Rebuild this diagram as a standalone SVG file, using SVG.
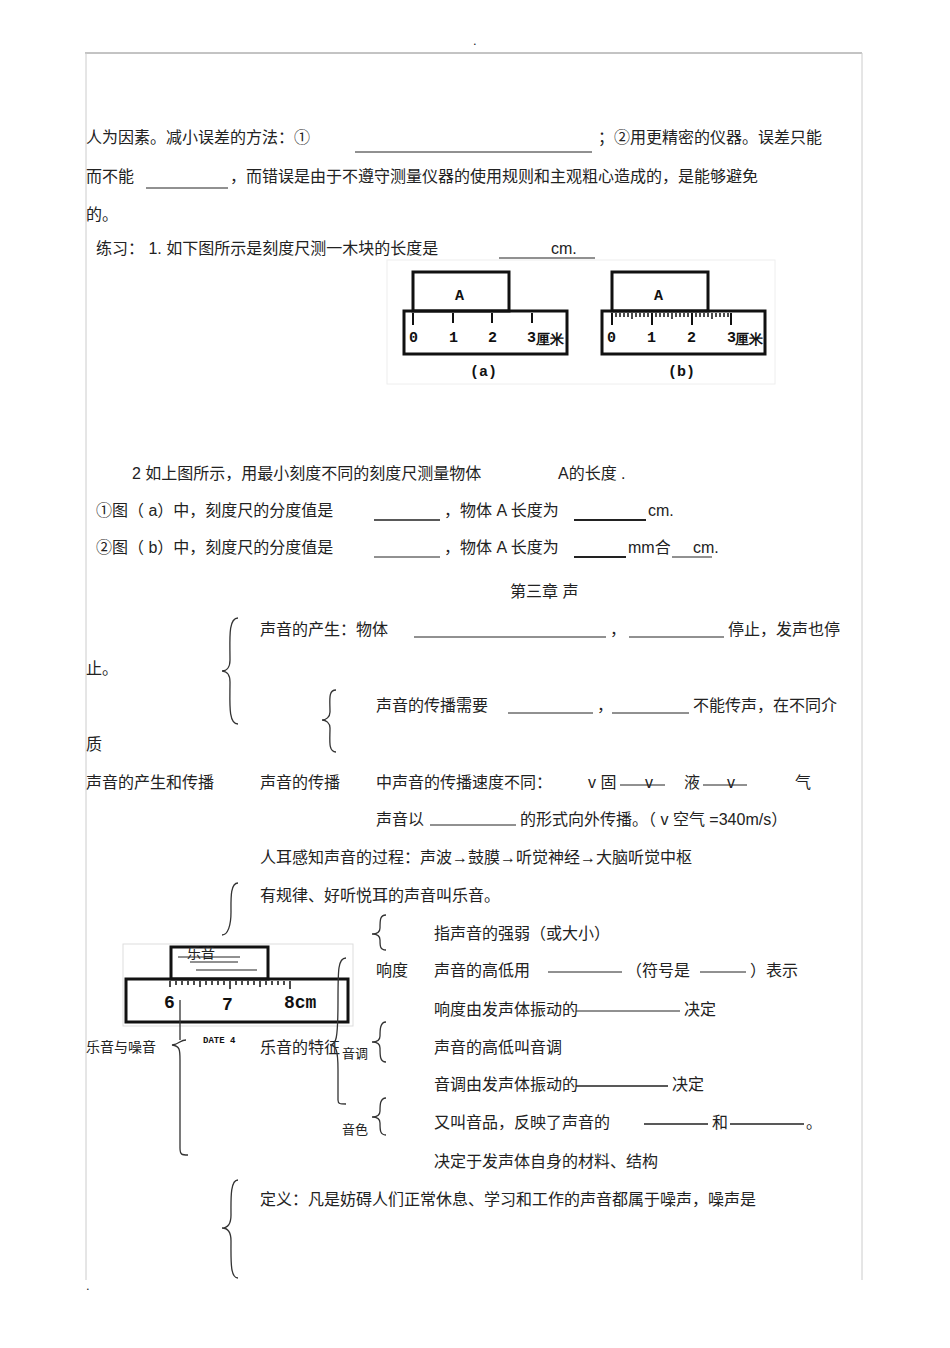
<svg xmlns="http://www.w3.org/2000/svg" width="950" height="1348" viewBox="0 0 950 1348">
<style>
text{font-family:"Liberation Sans","Noto Sans CJK SC",sans-serif;font-size:16px;fill:#222}
.s{font-size:13px}
.l{stroke:#222;stroke-width:1;fill:none}
.b{stroke:#333;stroke-width:1.3;fill:none}
.r{stroke:#111;stroke-width:3;fill:none}
.t{stroke:#111;stroke-width:2}
.rt{font-family:"Liberation Mono",monospace;font-weight:bold;font-size:15px;fill:#111}
</style>
<rect width="950" height="1348" fill="#fff"/>
<g id="page" class="l" stroke="#999">
<line x1="85" y1="53" x2="862" y2="53" stroke="#888"/>
<line x1="86" y1="53" x2="86" y2="1280" stroke="#ccc"/>
<line x1="862" y1="53" x2="862" y2="1280" stroke="#ccc"/>
</g>
<text x="473" y="45" class="s">.</text>
<text x="86" y="1290" class="s">.</text>
<g id="text1">
<text x="86" y="143">人为因素。减小误差的方法：①</text>
<text x="598" y="143">；②用更精密的仪器。误差只能</text>
<text x="86" y="182">而不能</text>
<text x="230" y="182">，而错误是由于不遵守测量仪器的使用规则和主观粗心造成的，是能够避免</text>
<text x="86" y="220">的。</text>
<text x="96" y="254">练习：  1. 如下图所示是刻度尺测一木块的长度是</text>
<text x="551" y="254">cm.</text>
<text x="132" y="479">2 如上图所示，用最小刻度不同的刻度尺测量物体</text>
<text x="558" y="479">A的长度 .</text>
<text x="96" y="516">①图（ a）中，刻度尺的分度值是</text>
<text x="444" y="516">，物体  A 长度为</text>
<text x="648" y="516">cm.</text>
<text x="96" y="553">②图（ b）中，刻度尺的分度值是</text>
<text x="444" y="553">，物体  A 长度为</text>
<text x="628" y="553">mm合</text>
<text x="693" y="553">cm.</text>
<text x="510" y="597">第三章    声</text>
<text x="260" y="635">声音的产生：物体</text>
<text x="610" y="635">，</text>
<text x="728" y="635">停止，发声也停</text>
<text x="86" y="674">止。</text>
<text x="376" y="711">声音的传播需要</text>
<text x="597" y="711">，</text>
<text x="693" y="711">不能传声，在不同介</text>
<text x="86" y="750">质</text>
<text x="86" y="788">声音的产生和传播</text>
<text x="260" y="788">声音的传播</text>
<text x="376" y="788">中声音的传播速度不同：</text>
<text x="588" y="788">v 固</text>
<text x="645" y="788">v</text>
<text x="684" y="788">液</text>
<text x="727" y="788">v</text>
<text x="795" y="788">气</text>
<text x="376" y="825">声音以</text>
<text x="520" y="825">的形式向外传播。（    v 空气 =340m/s）</text>
<text x="260" y="863">人耳感知声音的过程：声波→鼓膜→听觉神经→大脑听觉中枢</text>
<text x="260" y="901">有规律、好听悦耳的声音叫乐音。</text>
<text x="434" y="939">指声音的强弱（或大小）</text>
<text x="376" y="976">响度</text>
<text x="434" y="976">声音的高低用</text>
<text x="626" y="976">（符号是</text>
<text x="750" y="976">）表示</text>
<text x="434" y="1015">响度由发声体振动的</text>
<text x="684" y="1015">决定</text>
<text x="86" y="1052" style="font-size:14px">乐音与噪音</text>
<text x="260" y="1053">乐音的特征</text>
<text x="342" y="1058" style="font-size:13px">音调</text>
<text x="434" y="1053">声音的高低叫音调</text>
<text x="434" y="1090">音调由发声体振动的</text>
<text x="672" y="1090">决定</text>
<text x="342" y="1134" style="font-size:13px">音色</text>
<text x="434" y="1128">又叫音品，反映了声音的</text>
<text x="712" y="1128">和</text>
<text x="806" y="1128">。</text>
<text x="434" y="1167">决定于发声体自身的材料、结构</text>
<text x="260" y="1205">定义：凡是妨碍人们正常休息、学习和工作的声音都属于噪声，噪声是</text>
</g>
<g id="blanks" class="l">
<line x1="355" y1="152" x2="592" y2="152"/>
<line x1="146" y1="188" x2="228" y2="188"/>
<line x1="499" y1="258" x2="595" y2="258"/>
<line x1="374" y1="520" x2="440" y2="520" stroke-width="1.5"/>
<line x1="574" y1="520" x2="646" y2="520" stroke-width="2"/>
<line x1="374" y1="557" x2="440" y2="557"/>
<line x1="574" y1="557" x2="626" y2="557" stroke-width="2"/>
<line x1="672" y1="557" x2="712" y2="557"/>
<line x1="414" y1="637" x2="606" y2="637"/>
<line x1="629" y1="637" x2="724" y2="637"/>
<line x1="508" y1="713" x2="593" y2="713"/>
<line x1="612" y1="713" x2="689" y2="713"/>
<line x1="620" y1="785" x2="665" y2="785"/>
<line x1="703" y1="785" x2="747" y2="785"/>
<line x1="430" y1="825" x2="516" y2="825"/>
<line x1="548" y1="972" x2="622" y2="972"/>
<line x1="700" y1="972" x2="746" y2="972"/>
<line x1="576" y1="1011" x2="680" y2="1011"/>
<line x1="576" y1="1086" x2="668" y2="1086" stroke-width="1.5"/>
<line x1="644" y1="1124" x2="708" y2="1124" stroke-width="1.5"/>
<line x1="730" y1="1124" x2="804" y2="1124" stroke-width="1.5"/>
</g>
<g id="rulers">
<rect x="387" y="260" width="388" height="124" fill="none" stroke="#eee"/>
<g id="ruler-a">
<rect x="413" y="272" width="96" height="39" class="r" stroke-width="2"/>
<text x="455" y="300" class="rt">A</text>
<rect x="404" y="311" width="163" height="43" class="r"/>
<line x1="413" y1="313" x2="413" y2="325" class="t"/>
<line x1="453" y1="313" x2="453" y2="323" class="t"/>
<line x1="492" y1="313" x2="492" y2="323" class="t"/>
<line x1="532" y1="313" x2="532" y2="323" class="t"/>
<text x="409" y="342" class="rt">0</text><text x="449" y="342" class="rt">1</text><text x="488" y="342" class="rt">2</text><text x="527" y="342" class="rt">3</text>
<text x="536" y="344" class="rt" style="font-size:14px">厘米</text>
<text x="470" y="376" class="rt">(a)</text>
</g>
<g id="ruler-b">
<rect x="612" y="272" width="96" height="39" class="r" stroke-width="2"/>
<text x="654" y="300" class="rt">A</text>
<rect x="602" y="311" width="163" height="43" class="r"/>
<path d="M612 313v6M616 313v4M620 313v4M624 313v4M628 313v4M632 313v6M636 313v4M640 313v4M644 313v4M648 313v4M652 313v6M656 313v4M660 313v4M664 313v4M668 313v4M672 313v6M676 313v4M680 313v4M684 313v4M688 313v4M692 313v6M696 313v4M700 313v4M704 313v4M708 313v4M712 313v6M716 313v4M720 313v4M724 313v4M728 313v4" stroke="#111" stroke-width="1.5"/>
<line x1="612" y1="313" x2="612" y2="325" class="t"/>
<line x1="652" y1="313" x2="652" y2="325" class="t"/>
<line x1="692" y1="313" x2="692" y2="325" class="t"/>
<line x1="731" y1="313" x2="731" y2="325" class="t"/>
<text x="607" y="342" class="rt">0</text><text x="647" y="342" class="rt">1</text><text x="687" y="342" class="rt">2</text><text x="727" y="342" class="rt">3</text>
<text x="735" y="344" class="rt" style="font-size:14px">厘米</text>
<text x="668" y="376" class="rt">(b)</text>
</g>
<g id="ruler-c">
<rect x="123" y="944" width="230" height="82" fill="none" stroke="#ddd"/>
<rect x="171" y="947" width="97" height="32" class="r" stroke-width="2"/>
<line x1="178" y1="957" x2="240" y2="957" class="l"/>
<line x1="190" y1="962" x2="238" y2="962" class="l"/>
<line x1="196" y1="970" x2="257" y2="970" class="l"/>
<rect x="126" y="979" width="222" height="43" class="r"/>
<path d="M170 981v6M176 981v4M182 981v4M188 981v4M194 981v4M200 981v6M206 981v4M212 981v4M218 981v4M224 981v4M230 981v8M236 981v4M242 981v4M248 981v4M254 981v4M260 981v6M266 981v4M272 981v4M278 981v4M284 981v4M290 981v8" stroke="#111" stroke-width="1.5"/>
<text x="164" y="1008" class="rt" style="font-size:18px">6</text>
<text x="222" y="1010" class="rt" style="font-size:18px">7</text>
<text x="284" y="1008" class="rt" style="font-size:18px">8cm</text>
<text x="203" y="1043" class="rt" style="font-size:9px">DATE 4</text>
<text x="187" y="958" style="font-size:14px">乐音</text>
</g>
</g>
<g id="braces" class="b">
<path d="M238 618 C228 618 230 640 230 660 C230 668 226 671 222 671 C226 671 230 674 230 682 C230 702 228 724 238 724"/>
<path d="M336 690 C328 690 330 700 330 712 C330 717 326 720 322 720 C326 720 330 723 330 728 C330 740 328 752 336 752"/>
<path d="M238 883 C230 883 231 900 231 912 C231 925 228 935 222 935"/>
<path d="M186 1040 C180 1040 180 1044 172 1045 C180 1046 180 1050 180 1060 L180 1148 C180 1155 182 1155 188 1155 M180 1040 L180 1000"/>
<path d="M346 958 C338 958 338 970 338 1000 C338 1040 336 1045 330 1045 C336 1045 338 1050 338 1070 L338 1100 C338 1104 340 1104 346 1104"/>
<path d="M386 915 C380 915 380 920 380 928 C380 932 378 934 372 934 C378 934 380 936 380 940 C380 946 380 950 386 950"/>
<path d="M386 1022 C380 1022 380 1030 380 1036 C380 1040 378 1042 372 1042 C378 1042 380 1044 380 1048 C380 1056 380 1062 386 1062"/>
<path d="M386 1098 C380 1098 380 1105 380 1111 C380 1115 378 1117 372 1117 C378 1117 380 1119 380 1123 C380 1130 380 1135 386 1135"/>
<path d="M238 1180 C230 1180 231 1200 231 1215 C231 1224 228 1228 222 1228 C228 1228 231 1232 231 1241 C231 1260 230 1278 238 1278"/>
</g>
</svg>
